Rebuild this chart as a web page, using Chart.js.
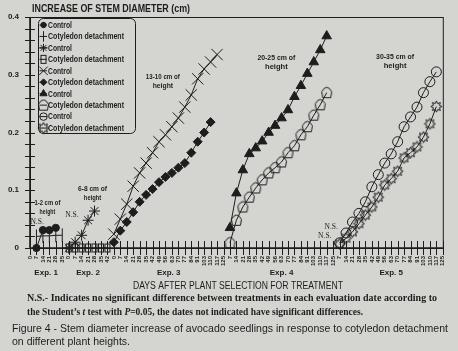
<!DOCTYPE html>
<html lang="en">

<head>
    <meta charset="UTF-8">
    <meta name="viewport" content="width=device-width, initial-scale=1.0">
    <title>Stem Diameter Increase</title>
    <script src="https://cdn.jsdelivr.net/npm/chart.js"></script>
    <style>
        html, body { margin: 0; padding: 0; background: #d4d4d1; }
        .wrapper { width: 458px; height: 351px; }
    </style>
</head>

<body>
    <div class="wrapper">
        <canvas id="stemChart" width="458" height="351"></canvas>
    </div>

    <script>
        const INK = '#1d1d1d';
        const SANS = '"Liberation Sans", Arial, sans-serif';
        const SERIF = '"Liberation Serif", "Times New Roman", serif';

        // evaluation dates (days after plant selection) of each experiment
        const exp1Days = [0, 7, 14, 21, 28, 35];
        const exp2Days = [0, 7, 14, 21, 28, 35, 42];
        const exp3Days = [0, 7, 14, 21, 28, 35, 42, 49, 56, 63, 70, 77, 84, 91, 103, 110, 117, 125];
        const exp4Days = [7, 14, 21, 28, 35, 42, 49, 56, 63, 70, 77, 84, 91, 103, 110, 117, 125];
        const exp5Days = [7, 14, 21, 28, 35, 42, 49, 56, 63, 70, 77, 84, 91, 103, 110, 117, 125];
        const expNames = ['Exp. 1', 'Exp. 2', 'Exp. 3', 'Exp. 4', 'Exp. 5'];
        const expHeights = ['1-2 cm of', '6-8 cm of', '13-10 cm of', '20-25 cm of', '30-35 cm of'];

        // increase of stem diameter (cm); each series starts at the date given next to it
        const exp1Control = [0, 0.031, 0.031, 0.035];            // from day 7
        const exp1Detached = [0.020, 0.021, 0.021, 0.022, 0.022]; // from day 7
        const exp2Control = [0, 0.010, 0.022, 0.048, 0.064];     // from day 0
        const exp2Detached = [0, 0, 0, 0, 0, 0, 0];               // from day 0
        const exp3Control = [0.024, 0.050, 0.076, 0.107, 0.130, 0.147, 0.165, 0.184, 0.196,
            0.210, 0.225, 0.244, 0.265, 0.293, 0.310, 0.322, 0.335]; // from day 0
        const exp3Detached = [0.010, 0.030, 0.045, 0.062, 0.080, 0.092, 0.102, 0.114, 0.123,
            0.130, 0.139, 0.147, 0.165, 0.184, 0.200, 0.218];        // from day 0
        const exp4Control = [0.035, 0.095, 0.135, 0.163, 0.173, 0.185, 0.200, 0.212, 0.225,
            0.239, 0.262, 0.281, 0.302, 0.322, 0.343, 0.367];        // from day 7
        const exp4Detached = [0.009, 0.048, 0.071, 0.088, 0.104, 0.118, 0.130, 0.139, 0.149,
            0.165, 0.177, 0.196, 0.210, 0.230, 0.248, 0.269];        // from day 7
        const exp5Control = [0.009, 0.026, 0.045, 0.060, 0.080, 0.106, 0.127, 0.147, 0.163,
            0.184, 0.210, 0.227, 0.244, 0.269, 0.288, 0.305];        // from day 7
        const exp5Detached = [0.007, 0.017, 0.028, 0.042, 0.057, 0.071, 0.088, 0.109, 0.120,
            0.133, 0.156, 0.165, 0.175, 0.192, 0.215, 0.245];        // from day 7

        const yTicks = [0, 0.1, 0.2, 0.3, 0.4];

        const allDays = [exp1Days, exp2Days, exp3Days, exp4Days, exp5Days];
        const labels = allDays.flat().map(String);
        const expStart = [];
        let count = 0;
        allDays.forEach(d => { expStart.push(count); count += d.length; });

        function place(exp, firstDay, values) {
            const out = new Array(labels.length).fill(null);
            const i0 = expStart[exp] + allDays[exp].indexOf(firstDay);
            values.forEach((v, k) => { out[i0 + k] = v; });
            return out;
        }

        // hollow marker shapes that the library has no style for
        function makeIcon(w, h, draw) {
            const c = document.createElement('canvas');
            c.width = w;
            c.height = h;
            const g = c.getContext('2d');
            g.strokeStyle = INK;
            g.lineWidth = 1;
            draw(g);
            return c;
        }
        const boxIcon = makeIcon(8, 11, g => g.strokeRect(1.5, 1.5, 5, 8));
        const pentIcon = makeIcon(13, 13, g => {
            g.beginPath();
            g.moveTo(2.5, 11.5);
            g.lineTo(10.5, 11.5);
            g.lineTo(11.5, 5.5);
            g.quadraticCurveTo(9, 1, 6.5, 1.2);
            g.quadraticCurveTo(4, 1, 1.5, 5.5);
            g.closePath();
            g.stroke();
        });
        const sunIcon = makeIcon(13, 13, g => {
            g.beginPath();
            for (let k = 0; k < 16; k++) {
                const a = k * Math.PI / 8;
                const r = k % 2 ? 3.2 : 5.6;
                const px = 6.5 + r * Math.cos(a), py = 6.5 + r * Math.sin(a);
                if (k) g.lineTo(px, py); else g.moveTo(px, py);
            }
            g.closePath();
            g.stroke();
        });

        function series(label, data, style) {
            return Object.assign({
                label: label,
                data: data,
                borderColor: INK,
                borderWidth: 1,
                pointBorderColor: INK,
                pointBorderWidth: 1,
                pointBackgroundColor: INK,
                fill: false,
                tension: 0,
                spanGaps: false,
                clip: false,
            }, style);
        }

        const hollow = 'rgba(0,0,0,0)';
        const datasets = [
            series('Control', place(0, 7, exp1Control), { pointStyle: 'circle', pointRadius: 3.6 }),
            series('Cotyledon detachment', place(0, 7, exp1Detached), { pointStyle: 'line', pointRotation: 90, pointRadius: 7 }),
            series('Control', place(1, 0, exp2Control), { pointStyle: 'star', pointRadius: 5.5 }),
            series('Cotyledon detachment', place(1, 0, exp2Detached), { pointStyle: boxIcon }),
            series('Control', place(2, 0, exp3Control), { pointStyle: 'crossRot', pointRadius: 8 }),
            series('Cotyledon detachment', place(2, 0, exp3Detached), { pointStyle: 'rectRot', pointRadius: 4.5 }),
            series('Control', place(3, 7, exp4Control), { pointStyle: 'triangle', pointRadius: 5.5 }),
            series('Cotyledon detachment', place(3, 7, exp4Detached), { pointStyle: pentIcon }),
            series('Control', place(4, 7, exp5Control), { pointStyle: 'circle', pointRadius: 5, pointBackgroundColor: hollow }),
            series('Cotyledon detachment', place(4, 7, exp5Detached), { pointStyle: sunIcon }),
        ];

        function put(ctx, text, x, y, font, width, align) {
            ctx.font = font;
            const w = ctx.measureText(text).width;
            const k = width ? width / w : 1;
            ctx.save();
            ctx.translate(x, y);
            ctx.scale(k, 1);
            ctx.textBaseline = 'middle';
            ctx.textAlign = 'left';
            ctx.fillText(text, align === 'center' ? -w / 2 : 0, 0);
            ctx.restore();
        }

        function putRich(ctx, parts, x, y, width) {
            let total = 0;
            parts.forEach(p => { ctx.font = p[1]; total += ctx.measureText(p[0]).width; });
            ctx.save();
            ctx.translate(x, y);
            ctx.scale(width / total, 1);
            ctx.textBaseline = 'middle';
            ctx.textAlign = 'left';
            let cx = 0;
            parts.forEach(p => {
                ctx.font = p[1];
                ctx.fillText(p[0], cx, 0);
                cx += ctx.measureText(p[0]).width;
            });
            ctx.restore();
        }

        const heightPos = [[2.7, 0.078], [9.7, 0.102], [20.6, 0.296], [38.2, 0.329], [56.6, 0.331]];
        const heightWidth = [26, 29, 34, 38, 38];
        const nsPos = [[1.1, 0.045], [6.5, 0.057], [46.7, 0.036], [45.7, 0.021]];

        const decor = {
            id: 'decor',
            afterDraw(chart) {
                const { ctx, chartArea: a, scales: { x, y } } = chart;
                ctx.save();
                ctx.strokeStyle = INK;
                ctx.fillStyle = INK;

                // frame and axes
                ctx.lineWidth = 1;
                ctx.strokeRect(a.left + 0.5, a.top + 0.5, a.right - a.left, a.bottom - a.top);
                ctx.lineWidth = 1.6;
                ctx.beginPath();
                ctx.moveTo(a.left, a.top);
                ctx.lineTo(a.left, a.bottom);
                ctx.lineTo(a.right, a.bottom);
                ctx.stroke();

                // tick marks crossing the axes
                ctx.lineWidth = 1;
                ctx.beginPath();
                x.ticks.forEach((t, i) => {
                    const px = Math.round(x.getPixelForTick(i)) + 0.5;
                    ctx.moveTo(px, a.bottom - 7);
                    ctx.lineTo(px, a.bottom + 7);
                });
                y.ticks.forEach((t, i) => {
                    const py = Math.round(y.getPixelForTick(i)) + 0.5;
                    ctx.moveTo(a.left - 5, py);
                    ctx.lineTo(a.left + 5, py);
                });
                ctx.stroke();

                // titles
                put(ctx, 'INCREASE OF STEM DIAMETER (cm)', 32, 9, 'bold 10px ' + SANS, 158);
                put(ctx, 'DAYS AFTER PLANT SELECTION FOR TREATMENT', 238, 286, '10px ' + SANS, 210, 'center');

                // experiment names under the axis
                expNames.forEach((name, e) => {
                    const i0 = expStart[e], i1 = i0 + allDays[e].length - 1;
                    const cx = (x.getPixelForValue(i0) + x.getPixelForValue(i1)) / 2;
                    put(ctx, name, cx, 273, 'bold 8px ' + SANS, 0, 'center');
                });

                // plant height notes
                expHeights.forEach((txt, e) => {
                    const px = x.getPixelForValue(heightPos[e][0]);
                    const py = y.getPixelForValue(heightPos[e][1]);
                    put(ctx, txt, px, py, 'bold 8px ' + SANS, heightWidth[e], 'center');
                    put(ctx, 'height', px, py + 9, 'bold 8px ' + SANS, heightWidth[e] * 0.6, 'center');
                });
                nsPos.forEach(p => {
                    put(ctx, 'N.S.', x.getPixelForValue(p[0]), y.getPixelForValue(p[1]), '7.5px ' + SERIF, 0, 'center');
                });

                // legend box
                ctx.lineWidth = 1;
                ctx.beginPath();
                ctx.roundRect(38.5, 18.5, 97, 115, 5);
                ctx.stroke();
                chart.data.datasets.forEach((ds, i) => {
                    const ly = 25 + i * 11.45;
                    ctx.lineWidth = 1;
                    ctx.beginPath();
                    ctx.moveTo(39.5, ly);
                    ctx.lineTo(47, ly);
                    ctx.stroke();
                    ctx.fillStyle = ds.pointBackgroundColor;
                    ctx.strokeStyle = INK;
                    Chart.helpers.drawPoint(ctx, {
                        pointStyle: ds.pointStyle,
                        rotation: ds.pointRotation || 0,
                        radius: (ds.pointRadius || 4) * 0.75,
                        borderWidth: 1,
                    }, 43.5, ly);
                    ctx.fillStyle = INK;
                    put(ctx, ds.label, 48, ly + 0.5, 'bold 8.5px ' + SANS, ds.label === 'Control' ? 24 : 76);
                });

                // notes under the chart
                put(ctx, 'N.S.- Indicates no significant difference between treatments in each evaluation date according to',
                    27, 298, 'bold 10.5px ' + SERIF, 410);
                putRich(ctx, [
                    ['the Student\u2019s ', 'bold 10.5px ' + SERIF],
                    ['t', 'italic bold 10.5px ' + SERIF],
                    [' test with ', 'bold 10.5px ' + SERIF],
                    ['P', 'italic bold 10.5px ' + SERIF],
                    ['=0.05, the dates not indicated have significant differences.', 'bold 10.5px ' + SERIF],
                ], 27, 312, 336);
                put(ctx, 'Figure 4 - Stem diameter increase of avocado seedlings in response to cotyledon detachment',
                    12, 329, '11.5px ' + SANS, 436);
                put(ctx, 'on different plant heights.', 12, 342, '11.5px ' + SANS, 118);
                ctx.restore();
            }
        };

        const ctx = document.getElementById('stemChart').getContext('2d');
        new Chart(ctx, {
            type: 'line',
            data: { labels: labels, datasets: datasets },
            options: {
                responsive: false,
                animation: false,
                layout: { padding: { top: 17, right: 6, bottom: 76, left: 0 } },
                scales: {
                    x: {
                        type: 'category',
                        offset: false,
                        grid: { display: false, drawTicks: false },
                        border: { display: false },
                        ticks: {
                            autoSkip: false,
                            minRotation: 90,
                            maxRotation: 90,
                            padding: 8,
                            color: INK,
                            font: { family: SANS, size: 6, weight: 'bold' },
                        },
                        afterFit: s => { s.height = 27; },
                    },
                    y: {
                        min: 0,
                        max: 0.4,
                        grid: { display: false, drawTicks: false },
                        border: { display: false },
                        ticks: {
                            stepSize: 0.02,
                            autoSkip: false,
                            padding: 11,
                            color: INK,
                            font: { family: SANS, size: 8, weight: 'bold' },
                            callback: v => {
                                const hit = yTicks.find(t => Math.abs(t - v) < 1e-6);
                                return hit === undefined ? '' : (hit === 0 ? '0' : hit.toFixed(1));
                            },
                        },
                        afterFit: s => { s.width = 30; },
                    },
                },
                plugins: {
                    legend: { display: false },
                    tooltip: { enabled: false },
                    title: { display: false },
                },
            },
            plugins: [decor],
        });
    </script>
</body>

</html>
